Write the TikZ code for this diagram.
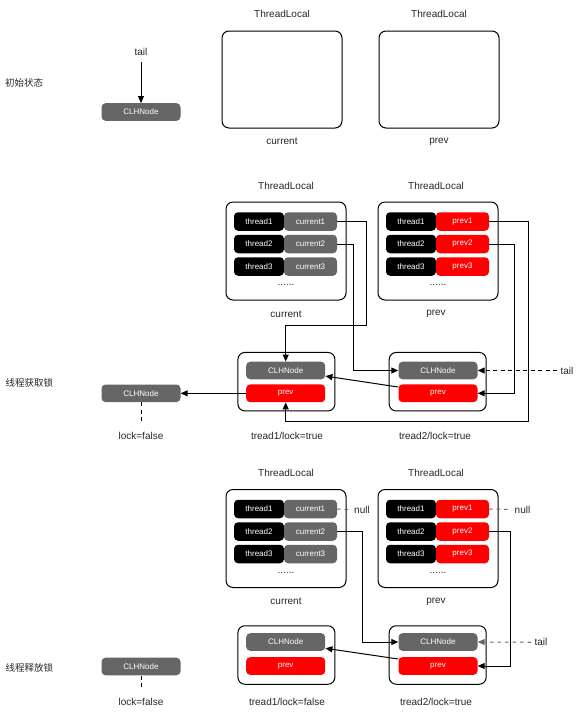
\documentclass[tikz,border=0pt]{standalone}
\usepackage{fontspec}
\setmainfont{Liberation Sans}
\newfontfamily\cjk{Noto Sans CJK SC}
\usepackage{xcolor}
\usepackage{tikz}
\usetikzlibrary{positioning, calc, arrows.meta}

\definecolor{clhgray}{RGB}{102,102,102}
\definecolor{clhred}{RGB}{255,0,0}

\tikzset{
        lbl/.style = {font = \fontsize{10}{12}\selectfont, text = black!85},
        cnlbl/.style = {font = \cjk\fontsize{9.5}{11}\selectfont, text = black!85,
        anchor = west, inner sep = 0pt},
        tlbox/.style = {draw, line width = 1pt, rounded corners = 7pt,
        minimum width = 120pt, minimum height = 98pt},
        nbox/.style = {draw, line width = 1pt, rounded corners = 7pt,
        minimum width = 97pt, minimum height = 58.5pt},
        cell/.style = {rounded corners = 4pt, text = white, inner sep = 0pt,
        minimum height = 18.5pt, font = \fontsize{8}{9}\selectfont},
        thr/.style = {cell, fill = black, minimum width = 50pt},
        cur/.style = {cell, fill = clhgray, minimum width = 53pt},
        prv/.style = {cell, fill = clhred, minimum width = 53pt},
        clh/.style = {cell, fill = clhgray, minimum width = 79pt,
        minimum height = 17.6pt},
        clhprev/.style = {cell, fill = clhred, minimum width = 79pt,
        minimum height = 17.8pt},
        arr/.style = {-{Triangle[length = 7pt, width = 6pt]}, line width = 1pt},
        taildash/.style = {line width = 1pt, dash pattern = on 4pt off 3.5pt},
        nulldash/.style = {line width = 1pt, clhgray,
        dash pattern = on 3.5pt off 4pt}
}

\begin{document}
\begin{tikzpicture}[x = 1pt, y = -1pt]
        \useasboundingbox (0, 0) rectangle (580, 713);

        \node [cnlbl] (s0) at (5, 83) {初始状态};
        \node [lbl] (tail0) at (141, 51.5) {tail};
        \node [clh] (clh0) at (141, 112) {CLHNode};
        \draw [arr, shorten < = 3pt] (tail0) -- (clh0);
        \node [lbl] (tla) at (282, 14) {ThreadLocal};
        \node [lbl] (tlb) at (439, 14) {ThreadLocal};
        \node [tlbox, minimum height = 97pt] (a1) at (282, 79.5) {};
        \node [tlbox, minimum height = 97pt] (a2) at (439, 79.5) {};
        \node [lbl] (acur) at (282, 141.5) {current};
        \node [lbl] (aprev) at (439, 141.5) {prev};

        \node [cnlbl] (s1) at (5.5, 383) {线程获取锁};
        \node [lbl] (tlc) at (286, 186) {ThreadLocal};
        \node [lbl] (tld) at (436, 186) {ThreadLocal};
        \node [tlbox] (b1) at (286, 251) {};
        \node [tlbox] (b2) at (438, 251) {};
        \node [thr] (t11) at (259, 221.5) {thread1};
        \node [cur] (ca1) at (310.5, 221.5) {current1};
        \node [thr] (t12) at (259, 244) {thread2};
        \node [cur] (ca2) at (310.5, 244) {current2};
        \node [thr] (t13) at (259, 266.5) {thread3};
        \node [cur] (ca3) at (310.5, 266.5) {current3};
        \node [thr] (t21) at (411, 221.5) {thread1};
        \node [prv] (pa1) at (462.5, 221.5) {prev1};
        \node [thr] (t22) at (411, 244) {thread2};
        \node [prv] (pa2) at (462.5, 244) {prev2};
        \node [thr] (t23) at (411, 266.5) {thread3};
        \node [prv] (pa3) at (462.5, 266.5) {prev3};
        \node [lbl] (dot1) at (286, 285) {......};
        \node [lbl] (dot2) at (438, 285) {......};
        \node [lbl] (bcur) at (286, 314) {current};
        \node [lbl] (bprev) at (436, 314) {prev};
        \node [nbox] (m1) at (286.4, 381.7) {};
        \node [nbox] (m2) at (437.7, 381.7) {};
        \node [clh] (c1) at (285.7, 370.5) {CLHNode};
        \node [clhprev] (p1) at (285.7, 393.3) {prev};
        \node [clh] (c2) at (438, 370.5) {CLHNode};
        \node [clhprev] (p2) at (438, 393.3) {prev};
        \node [clh] (n0) at (141, 393.3) {CLHNode};
        \node [lbl] (tail1) at (567, 370.5) {tail};
        \node [lbl] (lock0) at (141, 436) {lock=false};
        \node [lbl] (lt1) at (287, 436) {tread1/lock=true};
        \node [lbl] (lt2) at (435, 436) {tread2/lock=true};
        \draw [arr] (ca1.east) -- ++ (29, 0) -- ++ (0, 104) -| (c1.north);
        \draw [arr] (ca2.east) -- ++ (16, 0) |- (c2.west);
        \draw [arr] (pa1.east) -- ++ (39, 0) -- ++ (0, 199.5) -| (p1.south);
        \draw [arr] (pa2.east) -- ++ (25, 0) |- (p2.east);
        \draw [arr, taildash] (tail1) -- (c2.east);
        \draw [arr] (p2.171) -- (c1.-8);
        \draw [arr] (p1.west) -- (n0.east);
        \draw [taildash, shorten > = 7pt] (n0.south) -- (lock0.north);

        \node [cnlbl] (s2) at (5.5, 667.7) {线程释放锁};
        \node [lbl] (tle) at (286, 473) {ThreadLocal};
        \node [lbl] (tlf) at (436, 473) {ThreadLocal};
        \node [tlbox] (e1) at (286, 538.5) {};
        \node [tlbox] (e2) at (438, 538.5) {};
        \node [thr] (u11) at (259, 509) {thread1};
        \node [cur] (cb1) at (310.5, 509) {current1};
        \node [thr] (u12) at (259, 531.5) {thread2};
        \node [cur] (cb2) at (310.5, 531.5) {current2};
        \node [thr] (u13) at (259, 554) {thread3};
        \node [cur] (cb3) at (310.5, 554) {current3};
        \node [thr] (u21) at (411, 509) {thread1};
        \node [prv] (pb1) at (462.5, 509) {prev1};
        \node [thr] (u22) at (411, 531.5) {thread2};
        \node [prv] (pb2) at (462.5, 531.5) {prev2};
        \node [thr] (u23) at (411, 554) {thread3};
        \node [prv] (pb3) at (462.5, 554) {prev3};
        \node [lbl] (dot3) at (286, 572.5) {......};
        \node [lbl] (dot4) at (438, 572.5) {......};
        \node [lbl] (ecur) at (286, 601.5) {current};
        \node [lbl] (eprev) at (436, 601.5) {prev};
        \node [lbl] (null1) at (362, 509.5) {null};
        \node [lbl] (null2) at (522.5, 509.5) {null};
        \draw [nulldash] (cb1.east) -- (null1.west);
        \draw [nulldash] (pb1.east) -- (null2.west);
        \node [nbox] (k1) at (286.4, 655) {};
        \node [nbox] (k2) at (437.7, 655) {};
        \node [clh] (d1) at (285.7, 642) {CLHNode};
        \node [clhprev] (q1) at (285.7, 666) {prev};
        \node [clh] (d2) at (438, 642) {CLHNode};
        \node [clhprev] (q2) at (438, 666) {prev};
        \node [clh] (n1) at (141, 666.5) {CLHNode};
        \node [lbl] (tail2) at (541, 642.3) {tail};
        \node [lbl] (lock1) at (141, 701.5) {lock=false};
        \node [lbl] (lt3) at (287, 701.5) {tread1/lock=false};
        \node [lbl] (lt4) at (436, 701.5) {tread2/lock=true};
        \draw [arr] (cb2.east) -- ++ (25, 0) |- (d2.west);
        \draw [arr] (pb2.east) -- ++ (21, 0) |- (q2.east);
        \draw [arr, nulldash] (tail2) -- (d2.east);
        \draw [arr] (q2.170) -- (d1.-9);
        \draw [taildash, shorten > = 6pt] (n1.south) -- (lock1.north);
\end{tikzpicture}
\end{document}
